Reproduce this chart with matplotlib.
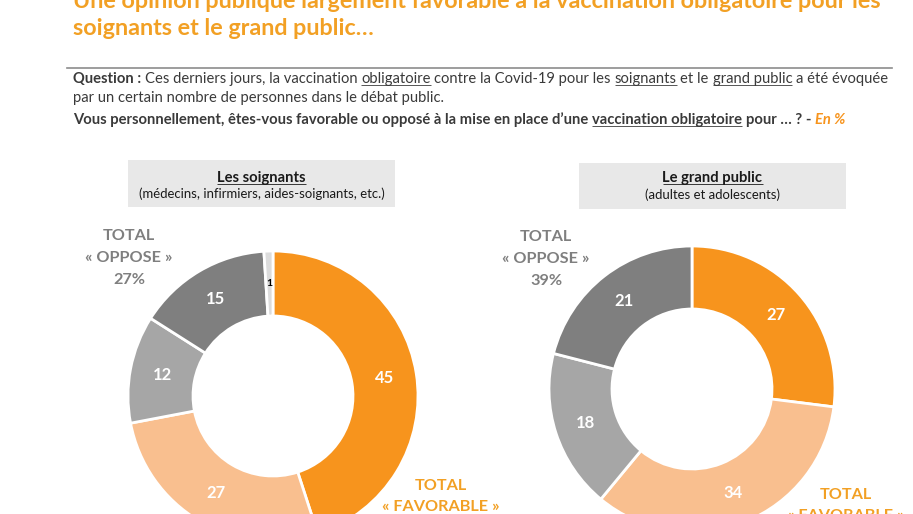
import matplotlib
matplotlib.use("Agg")
import matplotlib.pyplot as plt
from matplotlib.patches import Rectangle
import numpy as np

# ---------------- data ----------------
title_lines = ["Une opinion publique largement favorable à la vaccination obligatoire pour les",
               "soignants et le grand public…"]
left_title = "Les soignants"
left_sub = "(médecins, infirmiers, aides-soignants, etc.)"
right_title = "Le grand public"
right_sub = "(adultes et adolescents)"

soignants_values = [45, 27, 12, 15, 1]
grand_public_values = [27, 34, 18, 21]
soignants_colors = ["#F7941D", "#F9BF8F", "#A6A6A6", "#7F7F7F", "#DCDCDC"]
grand_public_colors = ["#F7941D", "#F9BF8F", "#A6A6A6", "#7F7F7F"]
soignants_oppose_total = 27
grand_public_oppose_total = 39

W, H = 913, 514
FAM = "Lato"
ORANGE_T = "#F2A024"
ORANGE = "#F7941D"
QGRAY = "#3A3A3A"
TGRAY = "#7F7F7F"

fig = plt.figure(figsize=(W / 100, H / 100), dpi=100)
ax = fig.add_axes([0, 0, 1, 1])
ax.set_xlim(0, W)
ax.set_ylim(0, H)
ax.axis("off")
renderer = fig.canvas.get_renderer()


def Y(y):
    return H - y


def seg_width(t, size, weight="normal", style="normal"):
    kw = dict(fontsize=size, fontweight=weight, fontstyle=style, family=FAM)
    a = ax.text(0, 0, "|" + t + "|", **kw)
    b = ax.text(0, 0, "||", **kw)
    w = a.get_window_extent(renderer).width - b.get_window_extent(renderer).width
    a.remove()
    b.remove()
    return w


def fit_size(segs, size, target):
    tot = sum(seg_width(s[0], size, s[1], s[2]) for s in segs)
    return size * target / tot


def draw(segs, x, yb, size, ha="left"):
    ws = [seg_width(s[0], size, s[1], s[2]) for s in segs]
    tot = sum(ws)
    x0 = x - tot / 2 if ha == "center" else x
    for (t, w, st, c, u), wd in zip(segs, ws):
        lead = len(t) - len(t.lstrip(" "))
        off = seg_width(" " * lead, size, w, st) if lead else 0
        core = t.strip(" ")
        if core:
            ax.text(x0 + off, Y(yb), core, fontsize=size, fontweight=w, fontstyle=st,
                    color=c, family=FAM, va="baseline", ha="left")
            if u:
                cw = seg_width(core, size, w, st)
                uy = Y(yb) - 0.13 * size * 100 / 72
                ax.plot([x0 + off, x0 + off + cw], [uy, uy], color=c,
                        lw=max(0.6, 0.05 * size), solid_capstyle="butt")
        x0 += wd
    return tot


def S(t, weight="normal", color=QGRAY, style="normal", u=False):
    return (t, weight, style, color, u)


# ---------------- title ----------------
t1 = [S(title_lines[0], "bold", ORANGE_T)]
tsize = fit_size(t1, 15, 813)
draw(t1, 73, 8, tsize)
draw([S(title_lines[1], "bold", ORANGE_T)], 73, 35, tsize)

# separator line
ax.plot([67, 892], [Y(68), Y(68)], color="#8C8C8C", lw=1.2)

# ---------------- question ----------------
q1 = [S("Question :", "bold"), S(" Ces derniers jours, la vaccination "),
      S("obligatoire", u=True), S(" contre la Covid-19 pour les "),
      S("soignants", u=True), S(" et le "), S("grand public", u=True),
      S(" a été évoquée")]
qsize = fit_size(q1, 10, 810)
draw(q1, 73, 83, qsize)
draw([S("par un certain nombre de personnes dans le débat public.")], 73, 102, qsize)
q3 = [S("Vous personnellement, êtes-vous favorable ou opposé à la mise en place d’une ", "bold"),
      S("vaccination obligatoire", "bold", u=True), S(" pour … ? - ", "bold"),
      S("En %", "bold", ORANGE, "italic")]
draw(q3, 73, 124, qsize)

# ---------------- headers ----------------
ax.add_patch(Rectangle((128, Y(207)), 267, 47, facecolor="#E8E8E8", edgecolor="none"))
ax.add_patch(Rectangle((579, Y(209)), 267, 46, facecolor="#E8E8E8", edgecolor="none"))
hsize = fit_size([S(left_title, "bold")], 9, 88)
ssize = fit_size([S(left_sub)], 9, 246)
draw([S(left_title, "bold", "#1A1A1A", u=True)], 261.5, 182, hsize, "center")
draw([S(left_sub, color="#1A1A1A")], 261.5, 198, ssize, "center")
draw([S(right_title, "bold", "#1A1A1A", u=True)], 712.5, 182, hsize, "center")
draw([S(right_sub, color="#1A1A1A")], 712.5, 199, ssize, "center")


# ---------------- donuts ----------------
def donut(vals, cols, cx, cy, r, rin):
    ax.pie(vals, colors=cols, startangle=90, counterclock=False,
           center=(cx, Y(cy)), radius=r,
           wedgeprops=dict(width=r - rin, edgecolor="white", linewidth=2))
    total = float(sum(vals))
    cum = np.cumsum(vals)
    rmid = (r + rin) / 2
    for v, c in zip(vals, cum):
        ang = np.deg2rad(90 - 360 * (c - v / 2) / total)
        x = cx + rmid * np.cos(ang)
        y = Y(cy) + rmid * np.sin(ang)
        if v < 3:
            ax.text(x, y, str(v), color="black", fontsize=7.5, fontweight="bold",
                    family=FAM, ha="center", va="center")
        else:
            ax.text(x, y, str(v), color="white", fontsize=12, fontweight="bold",
                    family=FAM, ha="center", va="center")


donut(soignants_values, soignants_colors, 273, 396, 145, 80)
donut(grand_public_values, grand_public_colors, 692, 389, 143, 80)
ax.set_aspect("auto")
ax.set_xlim(0, W)
ax.set_ylim(0, H)

# ---------------- totals ----------------
tt = fit_size([S("« OPPOSE »", "bold")], 12, 87)
draw([S("TOTAL", "bold", TGRAY)], 129, 240, tt, "center")
draw([S("« OPPOSE »", "bold", TGRAY)], 129, 262, tt, "center")
draw([S(f"{soignants_oppose_total}%", "bold", TGRAY)], 129, 284, tt, "center")

draw([S("TOTAL", "bold", TGRAY)], 546, 241, tt, "center")
draw([S("« OPPOSE »", "bold", TGRAY)], 546, 263, tt, "center")
draw([S(f"{grand_public_oppose_total}%", "bold", TGRAY)], 546, 285, tt, "center")

draw([S("TOTAL", "bold", ORANGE_T)], 441, 490, tt, "center")
draw([S("« FAVORABLE »", "bold", ORANGE_T)], 441, 511, tt, "center")

draw([S("TOTAL", "bold", ORANGE_T)], 846, 499, tt, "center")
draw([S("« FAVORABLE »", "bold", ORANGE_T)], 846, 520, tt, "center")

fig.savefig("out.png", dpi=100)
